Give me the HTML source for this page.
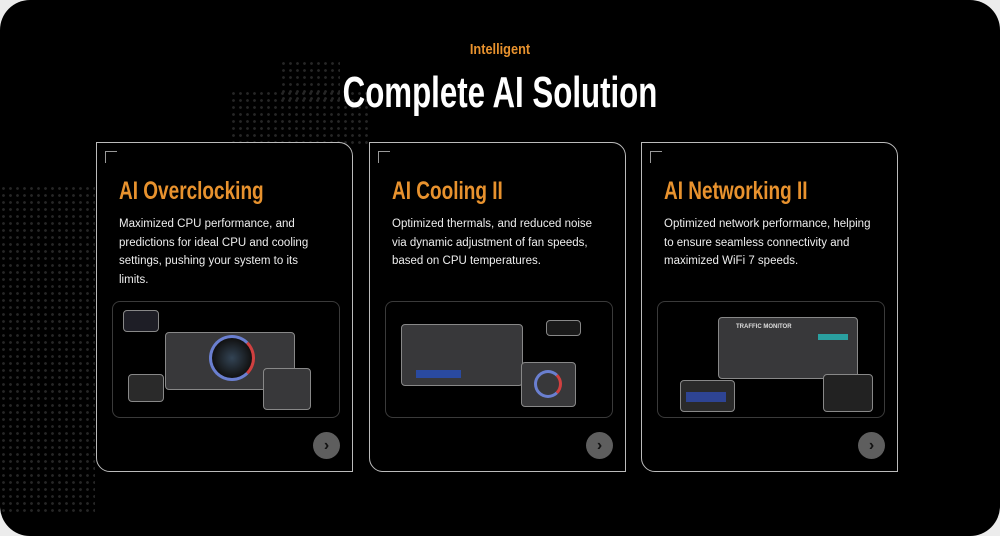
<!DOCTYPE html>
<html><head><meta charset="utf-8"><style>
*{margin:0;padding:0;box-sizing:border-box}
html,body{width:1000px;height:536px;background:#ececec;overflow:hidden}
.page{position:absolute;left:0;top:0;width:1000px;height:536px;background:#000;border-radius:30px;overflow:hidden;font-family:"Liberation Sans",sans-serif}
.dots{position:absolute;background-image:radial-gradient(circle,#262626 1.2px,transparent 1.6px);background-size:7px 7px}
.h1{position:absolute;top:41px;width:100%;text-align:center;color:#e8922e;font:bold 15px "Liberation Sans",sans-serif;transform:scaleX(0.85)}
.h2{position:absolute;top:68px;width:100%;text-align:center;color:#fff;font:bold 44px "Liberation Sans",sans-serif;transform:scaleX(0.71)}
.card{position:absolute;top:142px;width:257px;height:330px;border:1px solid #bbb;border-radius:0 14px 0 14px;background:#000}
.card .mk{position:absolute;left:8px;top:8px;width:12px;height:12px;border-left:1px solid #999;border-top:1px solid #999}
.card h3{position:absolute;left:22px;top:34px;color:#e8922e;font:bold 25px "Liberation Sans",sans-serif;transform:scaleX(0.76);transform-origin:0 0;white-space:nowrap}
.card p{position:absolute;left:22px;top:72px;width:210px;color:#eee;font-size:11.5px;line-height:18.5px}
.img{position:absolute;left:15px;top:158px;width:228px;height:117px;border:1px solid #3a3a3a;border-radius:8px}
.scr{position:absolute;background:#38383a;border:1px solid #888;border-radius:4px}
.btn{position:absolute;right:12px;bottom:12px;width:27px;height:27px;border-radius:50%;background:#5e5e5e;color:#111;font:bold 16px "Liberation Sans",sans-serif;text-align:center;line-height:27px}
</style></head><body><div class="page">
<div class="dots" style="left:0;top:185px;width:95px;height:330px"></div>
<div class="dots" style="left:230px;top:90px;width:140px;height:55px"></div>
<div class="dots" style="left:280px;top:60px;width:60px;height:40px"></div>
<div class="h1">Intelligent</div>
<div class="h2">Complete AI Solution</div>

<div class="card" style="left:96px"><div class="mk"></div>
<h3>AI Overclocking</h3>
<p style="width:195px">Maximized CPU performance, and predictions for ideal CPU and cooling settings, pushing your system to its limits.</p>
<div class="img">
<div class="scr" style="left:52px;top:30px;width:130px;height:58px"></div>
<div style="position:absolute;left:96px;top:33px;width:46px;height:46px;border-radius:50%;border:3px solid #6a7fd0;border-right-color:#d04040;background:radial-gradient(circle,#345 0,#111 70%)"></div>
<div class="scr" style="left:150px;top:66px;width:48px;height:42px"></div>
<div class="scr" style="left:15px;top:72px;width:36px;height:28px;background:#2a2a2a"></div>
<div class="scr" style="left:10px;top:8px;width:36px;height:22px;background:#1e1e26"></div>
</div>
<div class="btn">›</div></div>

<div class="card" style="left:369px"><div class="mk"></div>
<h3>AI Cooling II</h3>
<p>Optimized thermals, and reduced noise via dynamic adjustment of fan speeds, based on CPU temperatures.</p>
<div class="img">
<div class="scr" style="left:15px;top:22px;width:122px;height:62px"></div>
<div style="position:absolute;left:30px;top:68px;width:45px;height:8px;background:#2a4aa0"></div>
<div class="scr" style="left:135px;top:60px;width:55px;height:45px"></div>
<div style="position:absolute;left:148px;top:68px;width:28px;height:28px;border-radius:50%;border:3px solid #6a7fd0;border-right-color:#d04040"></div>
<div class="scr" style="left:160px;top:18px;width:35px;height:16px;background:#1a1a1a"></div>
</div>
<div class="btn">›</div></div>

<div class="card" style="left:641px"><div class="mk"></div>
<h3>AI Networking II</h3>
<p>Optimized network performance, helping to ensure seamless connectivity and maximized WiFi 7 speeds.</p>
<div class="img">
<div class="scr" style="left:60px;top:15px;width:140px;height:62px"></div>
<div style="position:absolute;left:78px;top:22px;color:#ddd;font:bold 6px sans-serif">TRAFFIC MONITOR</div>
<div style="position:absolute;left:160px;top:32px;width:30px;height:6px;background:#2aa0a0"></div>
<div class="scr" style="left:22px;top:78px;width:55px;height:32px;background:#2a2a2a"></div>
<div style="position:absolute;left:28px;top:90px;width:40px;height:10px;background:#3050c0;opacity:.7"></div>
<div class="scr" style="left:165px;top:72px;width:50px;height:38px;background:#222"></div>
</div>
<div class="btn">›</div></div>
</div></body></html>
